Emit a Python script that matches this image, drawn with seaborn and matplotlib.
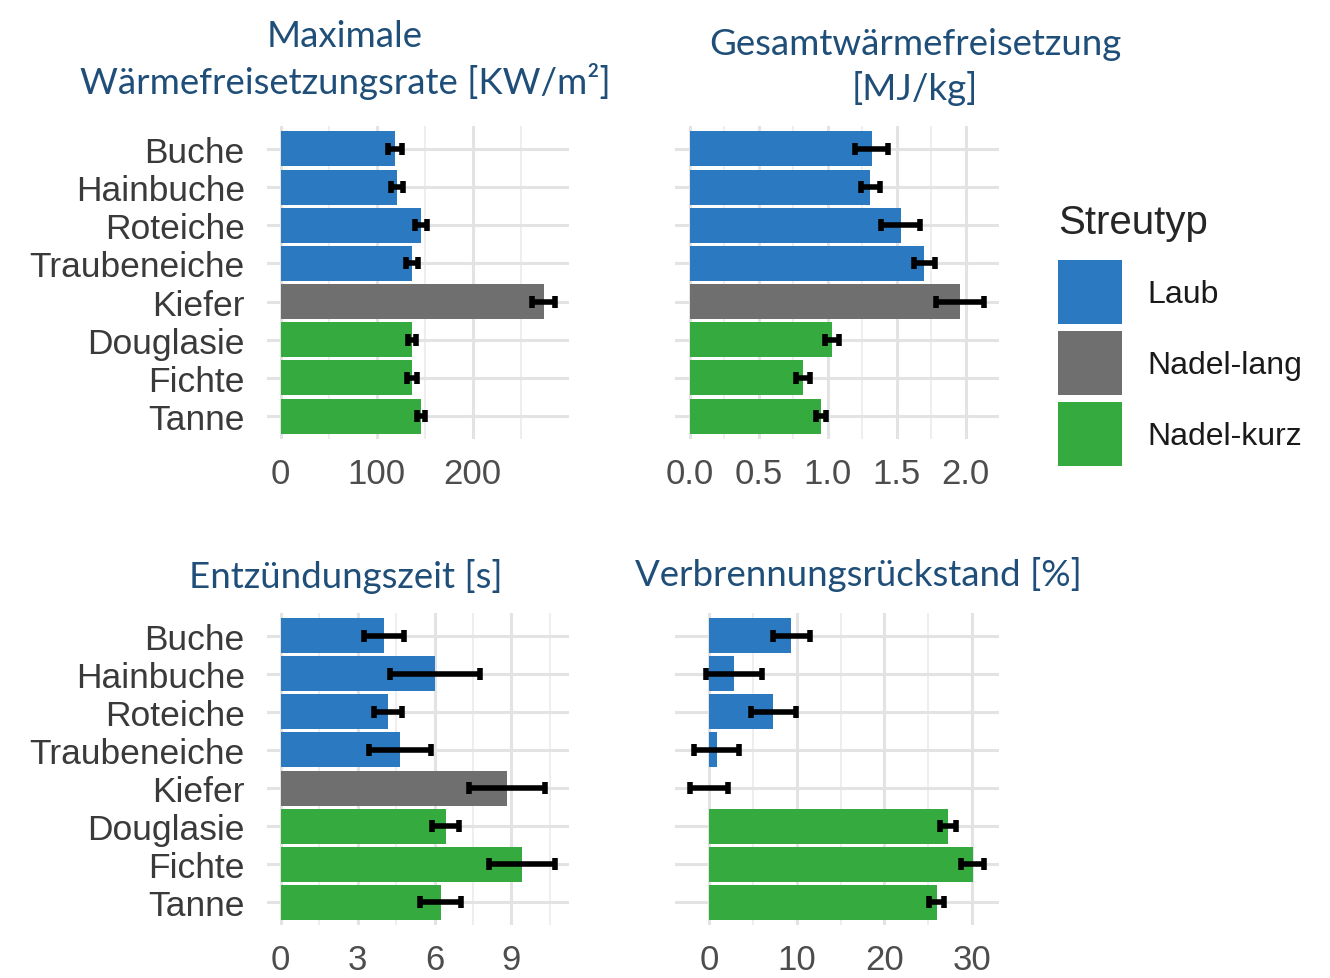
import matplotlib
matplotlib.use("Agg")
import matplotlib.pyplot as plt
import seaborn as sns
import pandas as pd
import numpy as np

SPECIES = ["Buche", "Hainbuche", "Roteiche", "Traubeneiche", "Kiefer", "Douglasie", "Fichte", "Tanne"]
STREUTYP = ["Laub", "Laub", "Laub", "Laub", "Nadel-lang", "Nadel-kurz", "Nadel-kurz", "Nadel-kurz"]
TYPES = ["Laub", "Nadel-lang", "Nadel-kurz"]
COLORS = ["#2B79C0", "#6F6F6F", "#35AA3E"]

# maximale Waermefreisetzungsrate [KW/m2]
HRR_MEAN = [119, 121, 146, 137, 274, 137, 137, 146]
HRR_ERR = [7, 6.5, 6.5, 6, 12, 4, 5, 4.5]
# Gesamtwaermefreisetzung [MJ/kg]
THR_MEAN = [1.32, 1.31, 1.53, 1.70, 1.96, 1.03, 0.82, 0.95]
THR_ERR = [0.12, 0.07, 0.14, 0.075, 0.175, 0.05, 0.05, 0.035]
# Entzuendungszeit [s]
TTI_MEAN = [4.03, 6.02, 4.20, 4.65, 8.83, 6.43, 9.41, 6.24]
TTI_ERR = [0.78, 1.74, 0.55, 1.22, 1.47, 0.53, 1.30, 0.80]
# Verbrennungsrueckstand [%]
RES_MEAN = [9.4, 2.8, 7.35, 0.87, 0.0, 27.3, 30.1, 26.0]
RES_ERR = [2.15, 3.2, 2.55, 2.6, 2.2, 0.9, 1.3, 0.85]

PANELS = [
    (HRR_MEAN, HRR_ERR, [0, 100, 200], ["0", "100", "200"], [50, 150, 250]),
    (THR_MEAN, THR_ERR, [0, 0.5, 1.0, 1.5, 2.0], ["0.0", "0.5", "1.0", "1.5", "2.0"], [0.25, 0.75, 1.25, 1.75]),
    (TTI_MEAN, TTI_ERR, [0, 3, 6, 9], ["0", "3", "6", "9"], [1.5, 4.5, 7.5, 10.5]),
    (RES_MEAN, RES_ERR, [0, 10, 20, 30], ["0", "10", "20", "30"], [5, 15, 25]),
]

TITLES = [
    ("Maximale\nWärmefreisetzungsrate [KW/m²]", 345, 60),
    ("Gesamtwärmefreisetzung\n[MJ/kg]", 915, 67),
    ("Entzündungszeit [s]", 346, 577),
    ("Verbrennungsrückstand [%]", 858, 575),
]

W, H = 1330, 979
# left, top, right, bottom in pixels
BOXES = [(267, 127, 569, 440), (675, 127, 999, 440),
         (267, 614, 569, 926), (675, 614, 999, 926)]

sns.set_theme(style="whitegrid")
plt.rcParams["font.family"] = ["Liberation Sans", "DejaVu Sans"]

fig = plt.figure(figsize=(W / 100, H / 100), dpi=100)
fig.patch.set_facecolor("white")

handles = None
for i, (mean, err, major, labels, minor) in enumerate(PANELS):
    l, t, r, b = BOXES[i]
    ax = fig.add_axes([l / W, 1 - b / H, (r - l) / W, (b - t) / H])
    df = pd.DataFrame({"Art": SPECIES, "Streutyp": STREUTYP, "Wert": mean})
    sns.barplot(data=df, x="Wert", y="Art", hue="Streutyp", order=SPECIES,
                hue_order=TYPES, palette=COLORS, dodge=False, width=0.92,
                saturation=1, linewidth=0, ax=ax, legend=(i == 0))
    ax.errorbar(mean, np.arange(len(SPECIES)), xerr=err, fmt="none",
                ecolor="black", elinewidth=4, capsize=4.5, capthick=4, zorder=5)

    m = np.array(mean)
    e = np.array(err)
    lo = min(0, (m - e).min())
    hi = (m + e).max()
    pad = 0.05 * (hi - lo)
    ax.set_xlim(lo - pad, hi + pad)
    ax.set_ylim(len(SPECIES) - 1 + 0.6, -0.6)

    ax.set_xticks(major, labels=labels)
    ax.set_xticks(minor, minor=True)
    ax.grid(which="major", color="#E3E3E3", lw=2.2)
    ax.grid(which="minor", axis="x", color="#EBEBEB", lw=1.2)
    ax.set_axisbelow(True)
    ax.set_facecolor("white")
    for s in ax.spines.values():
        s.set_visible(False)
    ax.tick_params(axis="both", which="both", length=0, labelsize=25, colors="#4D4D4D")
    ax.tick_params(axis="y", labelsize=25.5, pad=16, labelcolor="#3A3A3A")
    ax.tick_params(axis="x", pad=13)
    if i % 2 == 1:
        ax.set_yticklabels([])
    ax.set_xlabel("")
    ax.set_ylabel("")

    if i == 0:
        handles, hlabels = ax.get_legend_handles_labels()
        ax.get_legend().remove()

for text, x, y in TITLES:
    fig.text(x / W, 1 - y / H, text, ha="center", va="center", fontsize=26.4,
             family=["Lato", "DejaVu Sans"], color="#1F4E79", linespacing=1.35)

leg = fig.legend(handles, hlabels, title="Streutyp", loc="upper left",
                 bbox_to_anchor=(1042 / W, 1 - 188 / H), frameon=False,
                 fontsize=23, title_fontsize=29, handlelength=2.0, handleheight=2.7,
                 labelspacing=0.22, handletextpad=0.8, borderpad=0, alignment="left")
leg._legend_box.sep = 14  # more room under the legend title
for txt in leg.get_texts():
    txt.set_color("#1A1A1A")

fig.savefig("out.png", dpi=100, facecolor="white")
